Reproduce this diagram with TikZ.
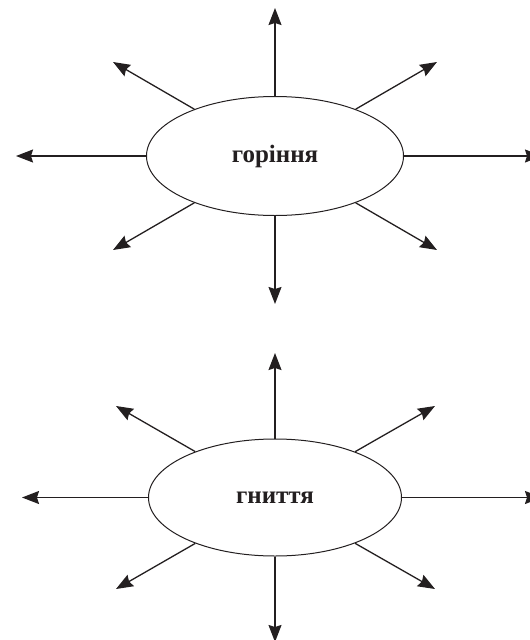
\documentclass[tikz,border=0pt]{standalone}
\usepackage{fontspec}
\setmainfont{Liberation Serif}
\usetikzlibrary{arrows.meta,shapes.geometric}
\definecolor{ink}{HTML}{231F20}
\begin{document}
\begin{tikzpicture}[x=1pt,y=-1pt,
  hub/.style={ellipse,draw=ink,text=ink,line width=1pt,inner sep=0pt,
    font=\fontsize{25}{27}\selectfont\bfseries},
  ray/.style={draw=ink,line width=1.3pt,
    -{Stealth[length=17pt,width=13pt,inset=2pt,fill=ink]}}]
\useasboundingbox (0,0) rectangle (530,640);

% upper cluster
\node[hub,minimum width=257pt,minimum height=119pt] (burn) at (275,156) {горіння};
\coordinate (bN)  at (275,8);
\coordinate (bS)  at (275,304);
\coordinate (bW)  at (16,156);
\coordinate (bE)  at (542,156);
\coordinate (bNW) at (113,62);
\coordinate (bNE) at (437,62);
\coordinate (bSW) at (113,250);
\coordinate (bSE) at (437,250);
\foreach \t in {bN,bS,bW,bE,bNW,bNE,bSW,bSE}
  \draw[ray] (burn) -- (\t);

% lower cluster
\node[hub,minimum width=253pt,minimum height=117pt] (rot) at (275,497.5) {гниття};
\coordinate (rN)  at (275,353);
\coordinate (rS)  at (275,642);
\coordinate (rW)  at (22,497.5);
\coordinate (rE)  at (542,497.5);
\coordinate (rNW) at (116,406);
\coordinate (rNE) at (435,406);
\coordinate (rSW) at (116,589);
\coordinate (rSE) at (435,589);
\foreach \t in {rN,rS,rW,rE,rNW,rNE,rSW,rSE}
  \draw[ray] (rot) -- (\t);
\end{tikzpicture}
\end{document}
